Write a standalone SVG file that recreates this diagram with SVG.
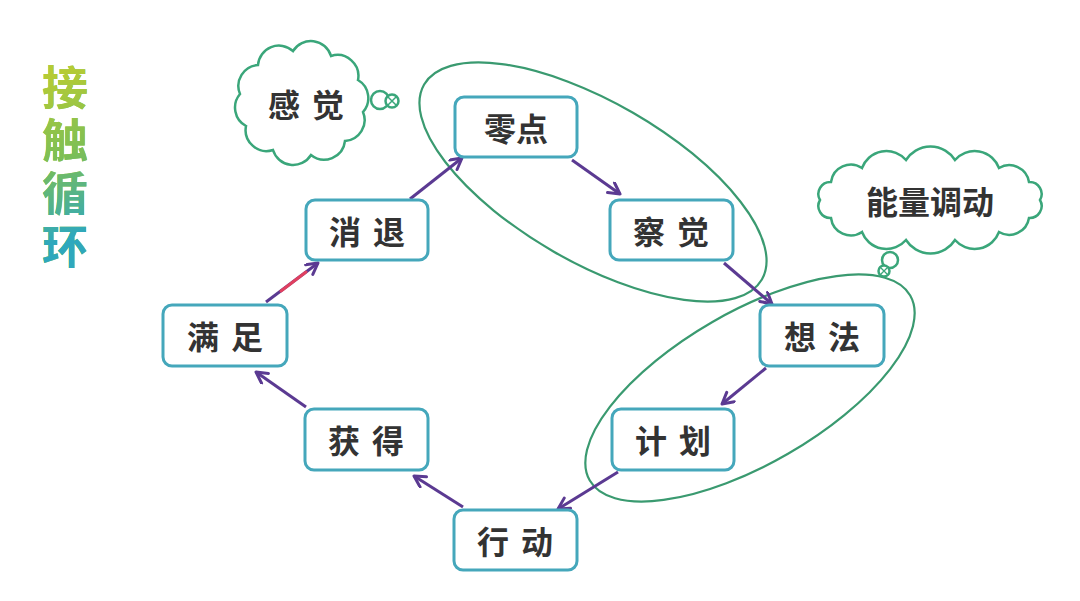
<svg xmlns="http://www.w3.org/2000/svg" width="1080" height="601" viewBox="0 0 1080 601">
<style>
.box{fill:#fff;stroke:#45a7bb;stroke-width:3}
.lbl{font-family:"Noto Sans CJK SC","Noto Sans",sans-serif;font-weight:700;font-size:32px;fill:#333;text-anchor:middle;dominant-baseline:central}
.sp{letter-spacing:12px}
.cloud{fill:#fff;stroke:#3aa67a;stroke-width:2.5}
.ring{fill:none;stroke:#3a9a70;stroke-width:2.2}
.arr{stroke:#5b3a92;stroke-width:3;fill:none;marker-end:url(#ah)}
.ttl{font-family:"Noto Sans CJK SC",sans-serif;font-weight:700;font-size:46px;letter-spacing:7px}
</style>
<defs>
<marker id="ah" markerUnits="userSpaceOnUse" markerWidth="16" markerHeight="16" refX="13" refY="7" orient="auto">
<path d="M2,1 L13,7 L2,13" fill="none" stroke="#5b3a92" stroke-width="3" stroke-linecap="round" stroke-linejoin="round"/>
</marker>
<linearGradient id="tg" gradientUnits="userSpaceOnUse" x1="40" y1="80" x2="92" y2="230">
<stop offset="0" stop-color="#b5cb35"/>
<stop offset="0.5" stop-color="#7dbf55"/>
<stop offset="1" stop-color="#2ea8bd"/>
</linearGradient>
<clipPath id="tclip"><text class="ttl" x="65" y="64" writing-mode="vertical-rl">接触循环</text></clipPath>
</defs>
<rect width="1080" height="601" fill="#fff"/>

<g id="title">
<text class="ttl" x="65" y="64" writing-mode="vertical-rl" fill="#8fc446">接触循环</text>
<rect x="30" y="55" width="75" height="225" fill="url(#tg)" clip-path="url(#tclip)"/>
</g>

<g id="group-ellipses">
<ellipse class="ring" cx="593" cy="182" rx="195" ry="80" transform="rotate(30 593 182)"/>
<ellipse class="ring" cx="750" cy="388" rx="185" ry="76" transform="rotate(-30 750 388)"/>
</g>

<g id="cloud-ganjue">
<path class="cloud" d="M363,112 A21,21 0 0 1 345,141 A21,21 0 0 1 311,155 A21,21 0 0 1 273,150 A21,21 0 0 1 246,126 A21,21 0 0 1 240,94 A21,21 0 0 1 258,65 A21,21 0 0 1 293,51 A21,21 0 0 1 331,56 A21,21 0 0 1 358,80 A21,21 0 0 1 363,112 Z"/>
<circle class="cloud" cx="380" cy="100" r="9"/>
<circle class="cloud" cx="392" cy="101" r="6.5"/>
<path d="M388,97 L396,105 M396,97 L388,105" stroke="#3aa67a" stroke-width="1.5"/>
<text class="lbl sp" x="312" y="103">感觉</text>
</g>

<g id="cloud-nengliang">
<path class="cloud" d="M1040,200 A12,12 0 0 1 1029,218 A20,20 0 0 1 999,232 A26,26 0 0 1 955,240 A29,29 0 0 1 906,240 A26,26 0 0 1 862,232 A20,20 0 0 1 831,218 A12,12 0 0 1 820,200 A12,12 0 0 1 831,182 A20,20 0 0 1 862,168 A26,26 0 0 1 906,160 A29,29 0 0 1 955,160 A26,26 0 0 1 999,168 A20,20 0 0 1 1029,182 A12,12 0 0 1 1040,200 Z"/>
<circle class="cloud" cx="890" cy="260" r="8"/>
<circle class="cloud" cx="884" cy="271" r="5.5"/>
<path d="M881,268 L887,274 M887,268 L881,274" stroke="#3aa67a" stroke-width="1.3"/>
<text class="lbl" x="930" y="200" font-size="34">能量调动</text>
</g>

<g id="connectors">
<line class="arr" x1="410" y1="199" x2="462" y2="158"/>
<line class="arr" x1="572" y1="160" x2="620" y2="194"/>
<line class="arr" x1="724" y1="263" x2="772" y2="304"/>
<line class="arr" x1="766" y1="368" x2="722" y2="404"/>
<line class="arr" x1="618" y1="472" x2="558" y2="509"/>
<line class="arr" x1="463" y1="507" x2="414" y2="476"/>
<line class="arr" x1="306" y1="407" x2="256" y2="372"/>
<line class="arr" x1="266" y1="302" x2="318" y2="263"/>
<line x1="281" y1="291" x2="306" y2="272" stroke="#e0405f" stroke-width="3" stroke-linecap="round"/>
</g>

<g id="node-lingdian"><rect class="box" x="455" y="97" width="122" height="60" rx="9"/><text class="lbl" x="516" y="127">零点</text></g>
<g id="node-chajue"><rect class="box" x="610" y="200" width="123" height="60" rx="9"/><text class="lbl sp" x="677" y="230">察觉</text></g>
<g id="node-xiangfa"><rect class="box" x="760" y="305" width="124" height="61" rx="9"/><text class="lbl sp" x="828" y="335">想法</text></g>
<g id="node-jihua"><rect class="box" x="612" y="409" width="122" height="61" rx="9"/><text class="lbl sp" x="679" y="439">计划</text></g>
<g id="node-xingdong"><rect class="box" x="454" y="510" width="123" height="60" rx="9"/><text class="lbl sp" x="521" y="540">行动</text></g>
<g id="node-huode"><rect class="box" x="305" y="409" width="123" height="61" rx="9"/><text class="lbl sp" x="372" y="439">获得</text></g>
<g id="node-manzu"><rect class="box" x="163" y="305" width="124" height="61" rx="9"/><text class="lbl sp" x="231" y="335">满足</text></g>
<g id="node-xiaotui"><rect class="box" x="306" y="200" width="122" height="60" rx="9"/><text class="lbl sp" x="373" y="230">消退</text></g>
</svg>
